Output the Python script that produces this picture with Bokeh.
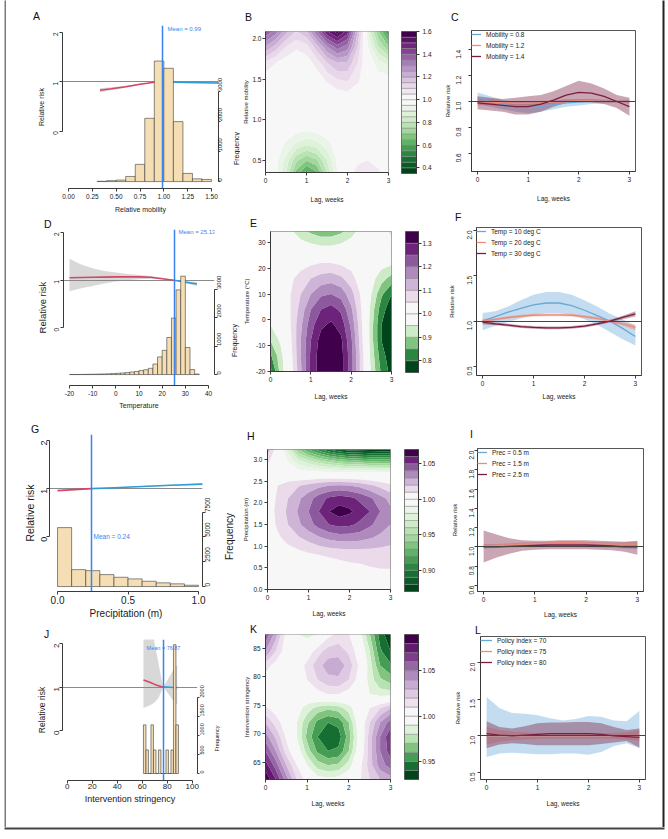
import math
import numpy as np
from bokeh.plotting import figure
from bokeh.models import (Range1d, LinearAxis, FixedTicker, NumeralTickFormatter,
                          Label, Legend, LegendItem, Title)
from bokeh.layouts import row, column
from bokeh.embed import file_html
from bokeh.resources import INLINE

FONT = "Liberation Sans"
TXT = "#1a1a1a"
AXC = "#3a3a3a"
RED = "#D64565"
BLUE = "#2F9BDA"
MEANC = "#3A84EE"
WHEAT = "#F5DEB3"
BAND = "#D4D4D4"
C_BLUE, C_SALMON, C_MAROON = "#69A8D6", "#EE8A78", "#7A1E40"

# ---------------- data ----------------
lags = [0, 0.25, 0.5, 0.75, 1.0, 1.25, 1.5, 1.75, 2.0, 2.25, 2.5, 2.75, 3.0]
lag_ticks = [0, 1, 2, 3]
rr_ticks = [0, 1, 2]

# A: relative mobility
mob_edges = [0.3, 0.4, 0.5, 0.6, 0.7, 0.8, 0.9, 1.0, 1.1, 1.2, 1.3, 1.4, 1.5]
mob_freq = [10, 30, 50, 170, 570, 2100, 4000, 3760, 1990, 270, 90, 70]
mob_x = [0.33, 0.45, 0.6, 0.75, 0.9, 0.99, 1.1, 1.25, 1.4, 1.57]
mob_rr = [0.83, 0.86, 0.9, 0.95, 0.99, 1.0, 0.99, 0.985, 0.98, 0.975]
mob_lo = [0.79, 0.83, 0.88, 0.94, 0.985, 1.0, 0.985, 0.975, 0.97, 0.96]
mob_hi = [0.87, 0.89, 0.92, 0.96, 0.995, 1.0, 0.995, 0.995, 0.99, 0.99]
mob_mean = 0.99
mob_ticks = [0, 0.25, 0.5, 0.75, 1.0, 1.25, 1.5]
mob_fticks = [0, 1000, 2000, 3000]

# D: temperature
temp_edges = [-20, -18, -16, -14, -12, -10, -8, -6, -4, -2, 0, 2, 4, 6, 8, 10, 12,
              14, 16, 18, 20, 22, 24, 26, 28, 30, 32, 34, 36]
temp_freq = [3, 4, 5, 8, 10, 14, 18, 22, 28, 35, 45, 55, 70, 90, 110, 140, 170,
             220, 370, 620, 850, 1300, 1980, 2970, 3450, 950, 175, 20]
temp_x = [-20, -15, -10, -5, 0, 5, 10, 15, 20, 25.13, 30, 35]
temp_rr = [1.05, 1.055, 1.06, 1.065, 1.07, 1.07, 1.07, 1.06, 1.03, 1.0, 0.96, 0.92]
temp_lo = [0.77, 0.83, 0.88, 0.93, 0.97, 1.0, 1.02, 1.03, 1.02, 1.0, 0.94, 0.88]
temp_hi = [1.45, 1.33, 1.25, 1.19, 1.16, 1.13, 1.11, 1.09, 1.05, 1.0, 0.98, 0.96]
temp_mean = 25.13
temp_ticks = [-20, -10, 0, 10, 20, 30, 40]
temp_fticks = [0, 1000, 2000, 3000]

# G: precipitation
prec_edges = [0.0, 0.1, 0.2, 0.3, 0.4, 0.5, 0.6, 0.7, 0.8, 0.9, 1.0]
prec_freq = [5930, 1700, 1600, 1200, 930, 770, 530, 370, 270, 130]
prec_x = [0.0, 0.06, 0.12, 0.18, 0.24, 0.4, 0.6, 0.8, 1.03]
prec_rr = [0.96, 0.97, 0.98, 0.99, 1.0, 1.02, 1.045, 1.07, 1.095]
prec_lo = [0.95, 0.965, 0.975, 0.988, 1.0, 1.015, 1.035, 1.06, 1.08]
prec_hi = [0.97, 0.975, 0.985, 0.992, 1.0, 1.025, 1.055, 1.08, 1.11]
prec_mean = 0.24
prec_ticks = [0, 0.5, 1.0]
prec_fticks = [0, 2500, 5000, 7500]

# J: intervention stringency
str_edges = [61, 63, 65, 67, 69, 71, 73, 75, 77, 79, 81, 83, 85, 87, 89]
str_freq = [1280, 620, 0, 1280, 620, 0, 620, 0, 0, 620, 0, 620, 3390, 1280]
str_x = [61, 64, 67, 70, 73, 75, 76.87, 79, 82, 85, 88]
str_rr = [1.16, 1.13, 1.1, 1.06, 1.03, 1.01, 1.0, 1.0, 0.995, 0.99, 0.99]
str_lo = [0.52, 0.55, 0.59, 0.65, 0.75, 0.88, 1.0, 0.92, 0.8, 0.68, 0.6]
str_hi = [2.5, 2.5, 2.4, 2.0, 1.55, 1.25, 1.0, 1.1, 1.25, 1.4, 1.5]
str_mean = 76.87
str_ticks = [0, 20, 40, 60, 80, 100]
str_fticks = [0, 500, 1000, 1500, 2000]

# B: lag-response surface, relative mobility
mobz_y = [0.35, 0.5, 0.7, 0.9, 1.1, 1.3, 1.5, 1.7, 1.9, 2.09]
mobz = [
    [1.02, 0.97, 0.85, 0.68, 0.58, 0.64, 0.80, 0.95, 1.02, 1.07, 1.09, 1.06, 1.01],
    [1.01, 0.97, 0.88, 0.76, 0.70, 0.74, 0.85, 0.96, 1.01, 1.04, 1.05, 1.03, 1.00],
    [1.00, 0.99, 0.94, 0.89, 0.86, 0.88, 0.93, 0.98, 1.00, 1.01, 1.01, 1.00, 1.00],
    [1.00, 1.00, 0.99, 0.98, 0.97, 0.98, 0.99, 1.00, 1.00, 1.00, 1.00, 1.00, 1.00],
    [1.00, 1.00, 1.00, 1.00, 1.00, 1.00, 1.00, 1.00, 1.00, 1.00, 1.00, 1.00, 1.00],
    [1.00, 1.00, 1.00, 1.00, 1.00, 1.00, 1.01, 1.02, 1.03, 1.02, 1.00, 1.00, 0.99],
    [1.02, 1.01, 1.00, 1.00, 1.00, 1.02, 1.06, 1.10, 1.11, 1.06, 1.00, 0.98, 0.97],
    [1.09, 1.05, 1.02, 1.01, 1.02, 1.07, 1.15, 1.20, 1.19, 1.10, 0.99, 0.92, 0.88],
    [1.25, 1.18, 1.10, 1.06, 1.08, 1.18, 1.30, 1.38, 1.33, 1.15, 0.95, 0.80, 0.70],
    [1.40, 1.33, 1.22, 1.15, 1.20, 1.35, 1.50, 1.58, 1.48, 1.20, 0.90, 0.70, 0.55],
]
mob_levels = [0.35, 0.40, 0.45, 0.50, 0.55, 0.60, 0.65, 0.70, 0.75, 0.80, 0.85, 0.90,
              0.95, 1.00, 1.05, 1.10, 1.15, 1.20, 1.25, 1.30, 1.35, 1.40, 1.45, 1.50,
              1.55, 1.60]
mobz_yticks = [0.5, 1.0, 1.5, 2.0]
mob_cticks = [0.4, 0.6, 0.8, 1.0, 1.2, 1.4, 1.6]

# E: temperature surface
tempz_y = [-20, -14, -8, -2, 4, 10, 16, 22, 28, 34.2]
tempz = [
    [0.78, 0.92, 1.02, 1.14, 1.26, 1.33, 1.34, 1.32, 1.22, 1.08, 0.94, 0.84, 0.78],
    [0.84, 0.93, 1.03, 1.15, 1.26, 1.33, 1.34, 1.32, 1.22, 1.08, 0.93, 0.82, 0.77],
    [0.90, 0.96, 1.04, 1.15, 1.25, 1.32, 1.34, 1.31, 1.21, 1.07, 0.92, 0.80, 0.76],
    [0.95, 0.99, 1.05, 1.14, 1.23, 1.29, 1.31, 1.28, 1.19, 1.06, 0.92, 0.80, 0.76],
    [0.98, 1.00, 1.05, 1.12, 1.20, 1.25, 1.27, 1.24, 1.16, 1.05, 0.93, 0.82, 0.77],
    [1.00, 1.01, 1.05, 1.10, 1.15, 1.19, 1.20, 1.18, 1.12, 1.04, 0.95, 0.86, 0.80],
    [1.00, 1.01, 1.04, 1.07, 1.10, 1.12, 1.13, 1.11, 1.07, 1.02, 0.97, 0.92, 0.88],
    [1.00, 1.00, 1.02, 1.03, 1.04, 1.05, 1.05, 1.04, 1.03, 1.01, 0.99, 0.97, 0.96],
    [1.00, 1.00, 0.99, 0.98, 0.97, 0.96, 0.96, 0.97, 0.98, 0.99, 1.00, 1.01, 1.02],
    [1.00, 0.99, 0.96, 0.92, 0.89, 0.87, 0.87, 0.89, 0.93, 0.97, 1.00, 1.03, 1.06],
]
temp_levels = [0.75, 0.80, 0.85, 0.90, 0.95, 1.00, 1.05, 1.10, 1.15, 1.20, 1.25, 1.30, 1.35]
tempz_yticks = [-20, -10, 0, 10, 20, 30]
temp_cticks = [0.8, 0.9, 1.0, 1.1, 1.2, 1.3]

# H: precipitation surface
precz_y = [0, 0.4, 0.8, 1.2, 1.5, 1.8, 2.1, 2.4, 2.7, 2.95, 3.23]
precz = [
    [1.000, 1.000, 1.000, 1.000, 1.000, 1.000, 1.000, 1.000, 1.001, 1.001, 1.002, 1.002, 1.003],
    [1.000, 1.000, 1.000, 1.001, 1.002, 1.003, 1.004, 1.005, 1.006, 1.007, 1.008, 1.009, 1.009],
    [1.000, 1.002, 1.004, 1.006, 1.008, 1.010, 1.011, 1.012, 1.013, 1.013, 1.014, 1.014, 1.014],
    [1.001, 1.008, 1.014, 1.019, 1.024, 1.029, 1.033, 1.035, 1.035, 1.034, 1.031, 1.028, 1.025],
    [1.003, 1.012, 1.020, 1.028, 1.036, 1.044, 1.050, 1.053, 1.052, 1.048, 1.042, 1.035, 1.030],
    [1.004, 1.013, 1.022, 1.031, 1.040, 1.050, 1.060, 1.065, 1.062, 1.055, 1.050, 1.040, 1.032],
    [1.003, 1.012, 1.020, 1.028, 1.036, 1.045, 1.052, 1.055, 1.053, 1.048, 1.042, 1.034, 1.027],
    [1.001, 1.010, 1.015, 1.019, 1.023, 1.027, 1.030, 1.031, 1.030, 1.027, 1.022, 1.017, 1.012],
    [1.002, 1.000, 0.998, 0.996, 0.994, 0.993, 0.992, 0.991, 0.990, 0.990, 0.990, 0.990, 0.990],
    [1.012, 1.000, 0.990, 0.975, 0.965, 0.955, 0.948, 0.942, 0.938, 0.935, 0.932, 0.930, 0.930],
    [1.025, 1.002, 0.975, 0.940, 0.920, 0.905, 0.890, 0.880, 0.875, 0.873, 0.872, 0.872, 0.872],
]
prec_levels = [0.87, 0.88, 0.89, 0.90, 0.91, 0.92, 0.93, 0.94, 0.95, 0.96, 0.97, 0.98,
               0.99, 1.00, 1.01, 1.02, 1.03, 1.04, 1.05, 1.06, 1.07]
precz_yticks = [0.0, 0.5, 1.0, 1.5, 2.0, 2.5, 3.0]
prec_cticks = [0.90, 0.95, 1.00, 1.05]

# K: stringency surface
strz_y = [62, 64.5, 67, 69.5, 72, 74.5, 77, 79.5, 82, 84.5, 87.6]
strz = [
    [1.088, 1.070, 1.045, 1.020, 1.005, 0.995, 0.993, 0.995, 1.000, 1.008, 1.020, 1.030, 1.035],
    [1.075, 1.055, 1.030, 1.010, 0.990, 0.975, 0.970, 0.972, 0.985, 1.005, 1.025, 1.045, 1.055],
    [1.060, 1.040, 1.015, 0.998, 0.975, 0.958, 0.950, 0.952, 0.970, 0.998, 1.025, 1.050, 1.065],
    [1.045, 1.028, 1.008, 0.990, 0.967, 0.950, 0.942, 0.945, 0.965, 0.995, 1.025, 1.050, 1.068],
    [1.030, 1.015, 1.003, 0.990, 0.972, 0.957, 0.950, 0.953, 0.970, 0.998, 1.020, 1.040, 1.055],
    [1.012, 1.005, 1.000, 0.995, 0.985, 0.976, 0.972, 0.975, 0.985, 1.000, 1.010, 1.020, 1.030],
    [1.000, 1.000, 1.000, 1.000, 1.002, 1.006, 1.010, 1.010, 1.005, 0.998, 0.990, 0.985, 0.985],
    [1.005, 1.002, 1.000, 1.002, 1.010, 1.020, 1.027, 1.028, 1.020, 1.005, 0.985, 0.972, 0.965],
    [1.015, 1.005, 1.000, 1.003, 1.013, 1.026, 1.035, 1.036, 1.026, 1.008, 0.985, 0.960, 0.952],
    [1.040, 1.020, 1.003, 0.998, 1.003, 1.015, 1.025, 1.026, 1.018, 1.003, 0.980, 0.952, 0.940],
    [1.060, 1.035, 1.005, 0.990, 0.985, 0.990, 1.005, 1.012, 1.010, 0.995, 0.970, 0.945, 0.932],
]
str_levels = [0.93, 0.94, 0.95, 0.96, 0.97, 0.98, 0.99, 1.00, 1.01, 1.02, 1.03, 1.04,
              1.05, 1.06, 1.07, 1.08, 1.09]
strz_yticks = [65, 70, 75, 80, 85]
str_cticks = [0.95, 1.00, 1.05]

# C: lag curves for mobility
mob08 = [1.03, 1.0, 0.975, 0.96, 0.955, 0.96, 0.975, 0.99, 0.995, 1.0, 1.0, 1.0, 1.0]
mob08_lo = [0.98, 0.96, 0.94, 0.92, 0.91, 0.92, 0.94, 0.96, 0.97, 0.98, 0.985, 0.99, 0.99]
mob08_hi = [1.07, 1.04, 1.01, 1.0, 0.99, 1.0, 1.01, 1.02, 1.02, 1.02, 1.015, 1.01, 1.01]
mob12 = [1.0, 0.995, 0.99, 0.985, 0.985, 0.99, 0.995, 1.0, 1.005, 1.005, 1.0, 1.0, 1.0]
mob12_lo = [0.97, 0.975, 0.975, 0.97, 0.97, 0.975, 0.985, 0.99, 0.995, 0.995, 0.99, 0.99, 0.985]
mob12_hi = [1.03, 1.015, 1.005, 1.0, 1.0, 1.005, 1.005, 1.01, 1.015, 1.015, 1.01, 1.01, 1.015]
mob14 = [0.99, 0.98, 0.97, 0.96, 0.96, 0.98, 1.01, 1.05, 1.07, 1.065, 1.04, 1.0, 0.96]
mob14_lo = [0.94, 0.93, 0.92, 0.9, 0.9, 0.92, 0.96, 0.99, 1.0, 0.995, 0.98, 0.95, 0.89]
mob14_hi = [1.04, 1.03, 1.02, 1.03, 1.04, 1.05, 1.08, 1.12, 1.16, 1.14, 1.1, 1.05, 1.03]
mob_series = ["Mobility = 0.8", "Mobility = 1.2", "Mobility = 1.4"]
c_yticks = [0.6, 0.8, 1.0, 1.2, 1.4]

# F: lag curves for temperature
t10 = [1.0, 1.05, 1.1, 1.14, 1.18, 1.2, 1.2, 1.17, 1.12, 1.06, 1.0, 0.92, 0.83]
t10_lo = [0.9, 0.95, 0.99, 1.03, 1.07, 1.09, 1.09, 1.07, 1.02, 0.96, 0.88, 0.8, 0.73]
t10_hi = [1.09, 1.11, 1.16, 1.23, 1.29, 1.32, 1.32, 1.29, 1.23, 1.16, 1.08, 1.02, 0.95]
t20 = [1.0, 1.02, 1.04, 1.055, 1.065, 1.07, 1.07, 1.065, 1.05, 1.03, 1.0, 0.97, 0.93]
t20_lo = [0.975, 1.005, 1.025, 1.04, 1.05, 1.055, 1.055, 1.05, 1.035, 1.015, 0.985, 0.95, 0.9]
t20_hi = [1.025, 1.035, 1.055, 1.07, 1.08, 1.085, 1.085, 1.08, 1.065, 1.045, 1.015, 0.99, 0.96]
t30 = [0.99, 0.97, 0.955, 0.94, 0.93, 0.925, 0.925, 0.93, 0.945, 0.97, 1.0, 1.04, 1.08]
t30_lo = [0.965, 0.955, 0.94, 0.925, 0.915, 0.91, 0.91, 0.915, 0.93, 0.955, 0.985, 1.02, 1.05]
t30_hi = [1.015, 0.985, 0.97, 0.955, 0.945, 0.94, 0.94, 0.945, 0.96, 0.985, 1.015, 1.06, 1.11]
temp_series = ["Temp = 10 deg C", "Temp = 20 deg C", "Temp = 30 deg C"]
f_yticks = [0.5, 1.0, 1.5, 2.0]

# I: lag curves for precipitation
p05 = [1.0, 1.0, 1.003, 1.006, 1.008, 1.01, 1.01, 1.01, 1.008, 1.005, 1.002, 1.0, 1.0]
p05_lo = [0.985, 0.99, 0.993, 0.996, 0.998, 1.0, 1.0, 1.0, 0.998, 0.995, 0.99, 0.985, 0.98]
p05_hi = [1.015, 1.01, 1.013, 1.016, 1.018, 1.02, 1.02, 1.02, 1.018, 1.015, 1.014, 1.015, 1.02]
p15 = [1.01, 1.015, 1.02, 1.03, 1.035, 1.04, 1.045, 1.045, 1.04, 1.035, 1.03, 1.03, 1.03]
p15_lo = [0.99, 1.0, 1.005, 1.015, 1.02, 1.025, 1.03, 1.03, 1.025, 1.02, 1.015, 1.01, 1.005]
p15_hi = [1.03, 1.03, 1.035, 1.045, 1.05, 1.055, 1.06, 1.06, 1.055, 1.05, 1.045, 1.05, 1.055]
p25 = [1.0, 1.0, 1.005, 1.01, 1.015, 1.02, 1.02, 1.02, 1.02, 1.015, 1.01, 1.0, 1.0]
p25_lo = [0.84, 0.89, 0.93, 0.96, 0.97, 0.975, 0.975, 0.975, 0.975, 0.97, 0.965, 0.95, 0.92]
p25_hi = [1.17, 1.13, 1.09, 1.07, 1.065, 1.065, 1.07, 1.07, 1.07, 1.065, 1.06, 1.055, 1.065]
prec_series = ["Prec = 0.5 m", "Prec = 1.5 m", "Prec = 2.5 m"]
i_yticks = [0.6, 0.8, 1.0, 1.2, 1.4, 1.6, 1.8, 2.0]

# L: lag curves for policy index
pol70 = [1.0, 0.995, 0.995, 1.0, 1.0, 1.0, 1.0, 1.0, 1.0, 1.0, 1.0, 1.0, 1.0]
pol70_lo = [0.71, 0.76, 0.77, 0.76, 0.75, 0.75, 0.76, 0.76, 0.74, 0.78, 0.86, 0.9, 0.83]
pol70_hi = [1.53, 1.38, 1.31, 1.3, 1.28, 1.24, 1.21, 1.23, 1.27, 1.26, 1.21, 1.2, 1.34]
pol75 = [1.0, 1.0, 1.0, 1.0, 1.0, 1.0, 1.0, 1.0, 1.0, 1.0, 1.0, 1.0, 1.0]
pol75_lo = [0.88, 0.92, 0.94, 0.95, 0.96, 0.96, 0.96, 0.96, 0.96, 0.96, 0.96, 0.95, 0.93]
pol75_hi = [1.12, 1.08, 1.06, 1.05, 1.04, 1.04, 1.04, 1.04, 1.04, 1.04, 1.04, 1.05, 1.08]
pol80 = [1.03, 1.01, 1.0, 1.01, 1.02, 1.03, 1.03, 1.03, 1.03, 1.02, 1.0, 0.99, 0.98]
pol80_lo = [0.83, 0.88, 0.9, 0.89, 0.87, 0.87, 0.87, 0.87, 0.87, 0.89, 0.91, 0.93, 0.84]
pol80_hi = [1.2, 1.12, 1.1, 1.13, 1.17, 1.18, 1.18, 1.19, 1.19, 1.17, 1.12, 1.08, 1.1]
pol_series = ["Policy index = 70", "Policy index = 75", "Policy index = 80"]
l_yticks = [0.5, 1.0, 1.5, 2.0]

# ---------------- helpers ----------------
PURP = ["#F7F7F7", "#E7D4E8", "#C2A5CF", "#9970AB", "#762A83", "#40004B"]
GRN = ["#F7F7F7", "#D9F0D3", "#A6DBA0", "#5AAE61", "#1B7837", "#00441B"]


def _rgb(c):
    return tuple(int(c[i:i + 2], 16) for i in (1, 3, 5))


def ramp(stops, t):
    t = max(0.0, min(1.0, t)) * (len(stops) - 1)
    i = min(int(t), len(stops) - 2)
    f = t - i
    a, b = _rgb(stops[i]), _rgb(stops[i + 1])
    return "#%02x%02x%02x" % tuple(int(round(a[k] + (b[k] - a[k]) * f)) for k in range(3))


def level_colors(levels):
    mids = [(a + b) / 2 for a, b in zip(levels[:-1], levels[1:])]
    up = [m for m in mids if m > 1]
    dn = [m for m in mids if m < 1]
    cols = []
    for m in mids:
        if m > 1:
            k = up.index(m)
            cols.append(ramp(PURP, k / max(len(up) - 1, 1)))
        else:
            k = len(dn) - 1 - dn.index(m)
            cols.append(ramp(GRN, k / max(len(dn) - 1, 1)))
    return cols


def mkfig(box, frame, xr, yr, outline=None):
    x0, y0, w, h = box
    fl, ft, fr, fb = frame
    p = figure(width=w, height=h, x_range=Range1d(*xr), y_range=Range1d(*yr),
               x_axis_type=None, y_axis_type=None, output_backend="svg",
               toolbar_location=None,
               min_border_left=fl - x0, min_border_right=x0 + w - fr,
               min_border_top=ft - y0, min_border_bottom=y0 + h - fb)
    try:
        p.frame_align = False
    except Exception:
        pass
    p.background_fill_color = "white"
    p.border_fill_color = "white"
    p.outline_line_color = outline
    return p, (box, frame, xr, yr)


def to_data(geo, wx, wy):
    _, (fl, ft, fr, fb), (xa, xb), (ya, yb) = geo
    return (xa + (wx - fl) / (fr - fl) * (xb - xa), yb - (wy - ft) / (fb - ft) * (yb - ya))


def add_axis(p, side, ticks, fmt, label=None, fs="6.5px", lfs="6.5px", vert=False,
             tick=3, s1=2, s2=2, bounds=None, rname=None):
    ax = LinearAxis(ticker=FixedTicker(ticks=ticks), formatter=NumeralTickFormatter(format=fmt))
    if rname is not None:
        if side in ("left", "right"):
            ax.y_range_name = rname
        else:
            ax.x_range_name = rname
    if label:
        ax.axis_label = label
        ax.axis_label_text_font = FONT
        ax.axis_label_text_font_size = lfs
        ax.axis_label_text_font_style = "normal"
        ax.axis_label_text_color = TXT
        ax.axis_label_standoff = s2
    ax.major_label_text_font = FONT
    ax.major_label_text_font_size = fs
    ax.major_label_text_color = TXT
    ax.major_label_standoff = s1
    ax.major_tick_out = tick
    ax.major_tick_in = 0
    ax.minor_tick_out = 0
    ax.minor_tick_in = 0
    ax.axis_line_color = AXC
    ax.major_tick_line_color = AXC
    if vert:
        ax.major_label_orientation = math.pi / 2
    if bounds is not None:
        ax.bounds = bounds
    p.add_layout(ax, side)
    return ax


def letter(p, geo, text, wx, wy, size=10.5):
    (x0, y0, w, h), (fl, ft, fr, fb), _, _ = geo
    th = size * 1.15
    top_border = ft - y0
    standoff = 2 * (ft - wy - th / 2)
    standoff = max(0.0, min(standoff, top_border - 2 - th - 0.5))
    t = p.title
    t.text = text
    t.align = "left"
    t.offset = wx - fl - size * 0.33
    t.standoff = standoff
    t.text_font = FONT
    t.text_font_size = f"{size}px"
    t.text_font_style = "normal"
    t.text_color = "#111111"


def freq_label(box, frame, size):
    # narrow companion figure carrying the "Frequency" title of the histogram axis
    p, geo = mkfig(box, frame, (0, 1), (0, 1))
    p.add_layout(Title(text="Frequency", align="center", standoff=0, text_font=FONT,
                       text_font_size=f"{size}px", text_font_style="normal",
                       text_color=TXT), "left")
    return p


def edge_bar(box, frame, color):
    # thin strip reproducing the figure's outer frame line
    p, geo = mkfig(box, frame, (0, 1), (0, 1))
    p.background_fill_color = color
    return p


def risk_panel(box, frame, xr, yr, frr, edges, freq, cx, crr, clo, chi, mean):
    p, geo = mkfig(box, frame, xr, yr)
    p.extra_y_ranges = {"freq": Range1d(*frr)}
    p.varea(x=cx, y1=clo, y2=chi, fill_color=BAND, fill_alpha=0.9)
    p.hspan(y=[1], line_color="#8a8a8a", line_width=1)
    lx = [a for a in cx if a <= mean]
    ly = [b for a, b in zip(cx, crr) if a <= mean]
    rx = [a for a in cx if a >= mean]
    ry = [b for a, b in zip(cx, crr) if a >= mean]
    p.line(lx, ly, line_color=RED, line_width=1.6)
    p.line(rx, ry, line_color=BLUE, line_width=1.6)
    p.quad(left=edges[:-1], right=edges[1:], bottom=0, top=freq, y_range_name="freq",
           fill_color=WHEAT, line_color="#3c3c3c", line_width=0.6)
    p.vspan(x=[mean], line_color=MEANC, line_width=1.5)
    return p, geo


def mean_label(p, geo, mean, wx, wy, size, align="left"):
    x, y = to_data(geo, wx, wy)
    p.add_layout(Label(x=x, y=y, text=f"Mean = {mean:.2f}", text_font=FONT,
                       text_font_size=size, text_color=MEANC, text_align=align,
                       text_baseline="middle"))


def heat_panel(box, frame, yr, ys, z, levels, yticks, yfmt, ylabel, s1y, s2y, s2x):
    p, geo = mkfig(box, frame, (0, 3), yr, outline="#8f8f8f")
    X, Y = np.meshgrid(np.array(lags), np.array(ys))
    p.contour(X, Y, np.array(z), levels, fill_color=level_colors(levels), line_color=None)
    add_axis(p, "left", yticks, yfmt, label=ylabel, fs="6.5px", lfs="6px", s1=s1y, s2=s2y)
    add_axis(p, "below", lag_ticks, "0", label="Lag, weeks", fs="6.5px", lfs="6.5px",
             s1=2, s2=s2x)
    return p, geo


def cbar_panel(box, frame, levels, ticks, fmt, s1):
    p, geo = mkfig(box, frame, (0, 1), (levels[0], levels[-1]), outline="#555555")
    p.quad(left=0, right=1, bottom=levels[:-1], top=levels[1:],
           fill_color=level_colors(levels), line_color="#8a8a8a", line_width=0.5)
    add_axis(p, "right", ticks, fmt, fs="6.5px", s1=s1)
    return p


def line_panel(box, frame, yr, series, labels, yticks, s1y, s2y, s2x, gw, pad):
    p, geo = mkfig(box, frame, (-0.12, 3.12), yr, outline="#555555")
    cols = [C_BLUE, C_SALMON, C_MAROON]
    alphas = [0.4, 0.45, 0.4]
    for (y, lo, hi), c, a in zip(series, cols, alphas):
        p.varea(x=lags, y1=lo, y2=hi, fill_color=c, fill_alpha=a)
    items = []
    for (y, lo, hi), c, lab in zip(series, cols, labels):
        r = p.line(lags, y, line_color=c, line_width=1.3)
        items.append(LegendItem(label=lab, renderers=[r]))
    p.hspan(y=[1], line_color="#444444", line_width=1)
    leg = Legend(items=items, location="top_left", border_line_color=None,
                 background_fill_alpha=0, label_text_font=FONT,
                 label_text_font_size="6.5px", label_text_color=TXT,
                 glyph_width=gw, glyph_height=8, label_height=8, spacing=3,
                 padding=pad, margin=0, label_standoff=5)
    p.add_layout(leg)
    add_axis(p, "left", yticks, "0.0", label="Relative risk", fs="6.5px", lfs="6px",
             vert=True, s1=s1y, s2=s2y)
    add_axis(p, "below", lag_ticks, "0", label="Lag, weeks", fs="6.5px", lfs="6.5px",
             s1=2, s2=s2x)
    return p, geo


# ---------------- panels (boxes and frames in page pixels) ----------------
# column 1: A, D, G, J  (each with a narrow companion carrying "Frequency")
pA, gA = risk_panel((6, 0, 222, 215), (62, 25, 218, 190), (-0.063, 1.573), (-1.16, 2.14),
                    (-230, 5180), mob_edges, mob_freq, mob_x, mob_rr, mob_lo, mob_hi, mob_mean)
add_axis(pA, "left", rr_ticks, "0", label="Relative risk", fs="6.5px", lfs="7px",
         vert=True, s1=4, s2=3, bounds=(0, 2))
add_axis(pA, "below", mob_ticks, "0.00", label="Relative mobility", fs="6.5px", lfs="7px",
         s1=2, s2=4, bounds=(0, 1.5))
add_axis(pA, "right", mob_fticks, "0", fs="6px", vert=True,
         tick=2, s1=0, bounds=(0, 3000), rname="freq")
mean_label(pA, gA, mob_mean, 167, 29, "6px")
letter(pA, gA, "A", 36, 15)
pAf = freq_label((228, 0, 12, 215), (239, 138, 240, 158), 7)

pD, gD = risk_panel((6, 215, 220, 196), (63, 229, 214, 386), (-22.59, 42.58), (-1.208, 2.0625),
                    (-383, 5087), temp_edges, temp_freq, temp_x, temp_rr, temp_lo, temp_hi,
                    temp_mean)
add_axis(pD, "left", rr_ticks, "0", label="Relative risk", fs="6.5px", lfs="9.5px",
         vert=True, s1=4, s2=1, bounds=(0, 2))
add_axis(pD, "below", temp_ticks, "0", label="Temperature", fs="6.5px", lfs="7px",
         s1=2, s2=3, bounds=(-20, 40))
add_axis(pD, "right", temp_fticks, "0", fs="6px", vert=True,
         tick=3, s1=2, bounds=(0, 3000), rname="freq")
mean_label(pD, gD, temp_mean, 178, 232, "6px")
letter(pD, gD, "D", 47, 221)
pDf = freq_label((226, 215, 14, 196), (237, 330, 240, 350), 7)

pG, gG = risk_panel((6, 411, 210, 210), (49, 434, 202, 592), (-0.057, 1.028), (-1.134, 2.124),
                    (-500, 15300), prec_edges, prec_freq, prec_x, prec_rr, prec_lo, prec_hi,
                    prec_mean)
add_axis(pG, "left", rr_ticks, "0", label="Relative risk", fs="9px", lfs="10.5px",
         vert=True, s1=2, s2=0, bounds=(0, 2))
add_axis(pG, "below", prec_ticks, "0.0", label="Precipitation (m)", fs="10px", lfs="10px",
         s1=1, s2=1, bounds=(0, 1))
add_axis(pG, "right", prec_fticks, "0", fs="6.5px", vert=True,
         tick=3, s1=2, bounds=(0, 7500), rname="freq")
mean_label(pG, gG, prec_mean, 93, 537, "6.5px")
letter(pG, gG, "G", 34, 429)
pGf = freq_label((216, 411, 24, 210), (234, 526, 240, 546), 10)

pJ, gJ = risk_panel((6, 621, 203, 206), (62, 639, 197, 780), (-3.76, 104.24), (-1.149, 2.092),
                    (-184, 3526), str_edges, str_freq, str_x, str_rr, str_lo, str_hi,
                    str_mean)
add_axis(pJ, "left", rr_ticks, "0", label="Relative risk", fs="8px", lfs="8.5px",
         vert=True, s1=3, s2=2, bounds=(0, 2))
add_axis(pJ, "below", str_ticks, "0", label="Intervention stringency", fs="8px", lfs="9px",
         s1=0, s2=2, bounds=(0, 100))
add_axis(pJ, "right", str_fticks, "0", fs="5.5px", vert=True,
         tick=2, s1=3, bounds=(0, 2000), rname="freq")
mean_label(pJ, gJ, str_mean, 163, 647, "5.5px", align="center")
letter(pJ, gJ, "J", 47, 635)
pJf = freq_label((209, 621, 31, 206), (219, 728, 240, 748), 5.5)

# column 2: B, E, H, K (surfaces) and column 3: their colour keys
pB, gB = heat_panel((240, 0, 156, 205), (265, 31, 388, 173), (0.354, 2.085), mobz_y, mobz,
                    mob_levels, mobz_yticks, "0.0", "Relative mobility", 1, 0, 10)
letter(pB, gB, "B", 248, 13)
pBc = cbar_panel((396, 0, 42, 205), (401, 31, 416, 173), mob_levels, mob_cticks, "0.0", 3)

pE, gE = heat_panel((240, 205, 156, 197), (270, 231, 391, 372), (-20, 34.2), tempz_y, tempz,
                    temp_levels, tempz_yticks, "0", "Temperature (\u00b0C)", 2, 3, 8)
letter(pE, gE, "E", 253, 222)
pEc = cbar_panel((396, 205, 42, 197), (405, 231, 418, 372), temp_levels, temp_cticks, "0.0", 1)

pH, gH = heat_panel((240, 402, 156, 217), (267, 449, 390, 591), (0, 3.23), precz_y, precz,
                    prec_levels, precz_yticks, "0.0", "Precipitation (m)", 2, 1, 7)
letter(pH, gH, "H", 250, 435)
pHc = cbar_panel((396, 402, 42, 217), (404, 449, 418, 591), prec_levels, prec_cticks, "0.00", 1)

pK, gK = heat_panel((240, 619, 156, 208), (265, 634, 390, 779), (62.0, 87.45), strz_y, strz,
                    str_levels, strz_yticks, "0", "Intervention stringency", 2, 0, 7)
letter(pK, gK, "K", 253, 630)
pKc = cbar_panel((396, 619, 42, 208), (404, 634, 418, 779), str_levels, str_cticks, "0.00", 1)

# column 4: C, F, I, L
pC, gC = line_panel((438, 0, 224, 204), (471, 30, 635, 173), (0.459, 1.549),
                    [(mob08, mob08_lo, mob08_hi), (mob12, mob12_lo, mob12_hi),
                     (mob14, mob14_lo, mob14_hi)], mob_series, c_yticks, 10, 0, 10, 10, 5)
letter(pC, gC, "C", 454, 15)

pF, gF = line_panel((438, 204, 224, 199), (476, 227, 641, 375), (0.40, 2.033),
                    [(t10, t10_lo, t10_hi), (t20, t20_lo, t20_hi), (t30, t30_lo, t30_hi)],
                    temp_series, f_yticks, 4, 7, 4, 10, 5)
letter(pF, gF, "F", 458, 210)

pI, gI = line_panel((438, 403, 224, 217), (477, 448, 643, 592), (0.538, 2.021),
                    [(p05, p05_lo, p05_hi), (p15, p15_lo, p15_hi), (p25, p25_lo, p25_hi)],
                    prec_series, i_yticks, 3, 6, 6, 10, 5)
letter(pI, gI, "I", 473, 433)

pL, gL = line_panel((438, 620, 224, 207), (480, 636, 645, 779), (0.404, 2.355),
                    [(pol70, pol70_lo, pol70_hi), (pol75, pol75_lo, pol75_hi),
                     (pol80, pol80_lo, pol80_hi)], pol_series, l_yticks, 5, 4, 7, 12, 4)
letter(pL, gL, "L", 478, 628)

# outer frame lines of the composite figure
left_bar = edge_bar((0, 0, 6, 827), (4, 0, 6, 827), "#7a7a7a")
right_bar = edge_bar((662, 0, 6, 827), (662, 0, 664, 827), "#222222")
bottom_bar = edge_bar((0, 827, 668, 12), (4, 827, 664, 829), "#444444")

layout = column(
    row(
        left_bar,
        column(row(pA, pAf), row(pD, pDf), row(pG, pGf), row(pJ, pJf)),
        column(pB, pE, pH, pK),
        column(pBc, pEc, pHc, pKc),
        column(pC, pF, pI, pL),
        right_bar,
    ),
    bottom_bar,
)

open("out.html", "w").write(file_html(layout, INLINE))
